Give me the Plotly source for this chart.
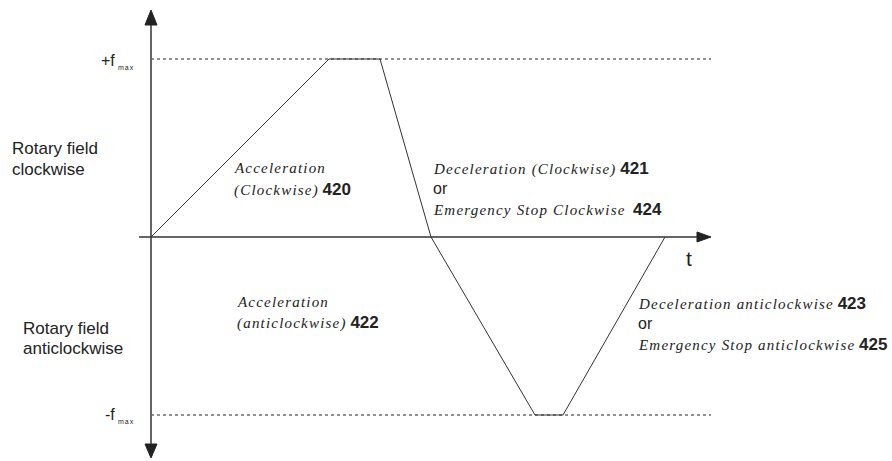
import plotly.graph_objects as go

# speed profile: time (arbitrary units) vs. output frequency (in units of f_max)
t_profile = [0, 178, 229, 280, 384, 412, 514]
f_profile = [0, 1, 1, 0, -1, -1, 0]
f_max = 1
t_end = 560

W, H = 892, 461
OX, OY, SY = 151, 237, 178  # pixel origin and pixels per f_max


def X(px):
    return px - OX


def Y(py):
    return (OY - py) / SY


TIMES = "Liberation Serif"
ARIAL = "Liberation Sans"
INK = "#222"


def it(s):
    return f'<span style="letter-spacing:1.2px"><i>{s}</i></span>'


def num(s):
    return f'<span style="font-family:{ARIAL};font-size:17px"><b>{s}</b></span>'


fig = go.Figure()

# dotted +f_max / -f_max reference lines
for f in (f_max, -f_max):
    fig.add_trace(go.Scatter(x=[0, t_end], y=[f, f], mode="lines",
                             line=dict(color=INK, width=1, dash="dot"), hoverinfo="skip"))

# axes
fig.add_shape(type="line", x0=X(151), x1=X(151), y0=Y(22), y1=Y(448), line=dict(color="#666", width=2))
fig.add_shape(type="line", x0=X(139), x1=X(700), y0=0, y1=0, line=dict(color="#333", width=1.5))
fig.add_shape(type="path", path=f"M {X(151)} {Y(10)} L {X(145)} {Y(25)} L {X(157)} {Y(25)} Z",
              fillcolor=INK, line=dict(color=INK, width=1))
fig.add_shape(type="path", path=f"M {X(151)} {Y(458)} L {X(145)} {Y(444)} L {X(157)} {Y(444)} Z",
              fillcolor=INK, line=dict(color=INK, width=1))
fig.add_shape(type="path", path=f"M {X(711)} 0 L {X(697)} {Y(232)} L {X(697)} {Y(242)} Z",
              fillcolor=INK, line=dict(color=INK, width=1))

# profile
fig.add_trace(go.Scatter(x=t_profile, y=f_profile, mode="lines",
                         line=dict(color="#333", width=1), hoverinfo="skip"))


def label(px, py, text, size=15, family=TIMES, anchor="left"):
    fig.add_annotation(x=X(px), y=Y(py), text=text, showarrow=False, xanchor=anchor, yanchor="middle",
                       font=dict(family=family, size=size, color=INK))


label(10, 148, "Rotary field", 17, ARIAL)
label(10, 169, "clockwise", 17, ARIAL)
label(21, 328, "Rotary field", 17, ARIAL)
label(21, 348, "anticlockwise", 17, ARIAL)

label(117, 60, "+f", 16, ARIAL, "right")
label(116, 67, '<span style="letter-spacing:1px">max</span>', 7, ARIAL, "left")
label(117, 414, "-f", 16, ARIAL, "right")
label(116, 421, '<span style="letter-spacing:1px">max</span>', 7, ARIAL, "left")
label(684, 258, "t", 21, ARIAL)

label(232, 168, it("Acceleration"))
label(232, 189, f'{it("(Clockwise)")} {num("420")}')
label(431, 168, f'{it("Deceleration (Clockwise)")} {num("421")}')
label(431, 188, "or", 16, ARIAL)
label(431, 209, f'{it("Emergency Stop Clockwise")}  {num("424")}')
label(235, 302, it("Acceleration"))
label(235, 322, f'{it("(anticlockwise)")} {num("422")}')
label(636, 303, f'{it("Deceleration anticlockwise")} {num("423")}')
label(636, 323, "or", 16, ARIAL)
label(636, 344, f'{it("Emergency Stop anticlockwise")} {num("425")}')

fig.update_layout(
    width=W, height=H, margin=dict(l=0, r=0, t=0, b=0),
    plot_bgcolor="white", paper_bgcolor="white", showlegend=False,
    xaxis=dict(range=[X(0), X(W)], visible=False, fixedrange=True),
    yaxis=dict(range=[Y(H), Y(0)], visible=False, fixedrange=True),
)

fig.write_html("out.html", config={"displayModeBar": False},
               post_script="document.body.style.margin='0';document.body.style.overflow='hidden';")
